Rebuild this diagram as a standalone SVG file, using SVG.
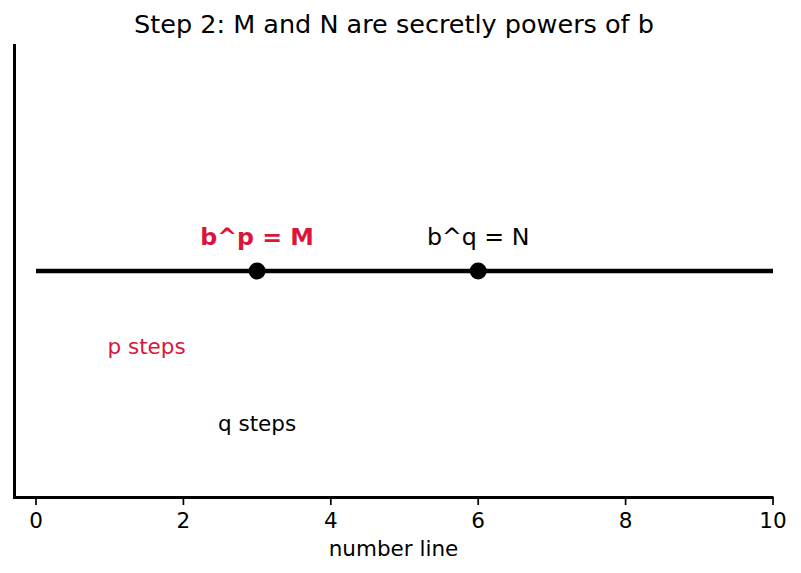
<svg xmlns="http://www.w3.org/2000/svg" width="801" height="573" viewBox="0 0 801 573">
<style>
text{font-family:"DejaVu Sans",sans-serif;fill:#000}
.tick{font-size:21.5px;text-anchor:middle}
.lbl{font-size:23.7px;text-anchor:middle}
.red{fill:#dc143c}
.steps{font-size:21.5px;text-anchor:middle}
</style>
<rect width="801" height="573" fill="#fff"/>
<g id="axes" stroke="#000" fill="none">
<path d="M14.5 44V497.5H773.5" stroke-width="3"/>
<g stroke-width="1.7">
<path d="M36 497V505M183.4 497V505M330.8 497V505M478.2 497V505M625.6 497V505M773 497V505"/>
</g>
</g>
<g id="ticklabels">
<text class="tick" x="36" y="528">0</text>
<text class="tick" x="183.4" y="528">2</text>
<text class="tick" x="330.8" y="528">4</text>
<text class="tick" x="478.2" y="528">6</text>
<text class="tick" x="625.6" y="528">8</text>
<text class="tick" x="773" y="528">10</text>
</g>
<text id="xlabel" class="tick" x="393.5" y="556">number line</text>
<text id="title" x="394" y="33" style="font-size:25.5px;text-anchor:middle">Step 2: M and N are secretly powers of b</text>
<g id="connectors">
<line x1="36" y1="271" x2="773" y2="271" stroke="#000" stroke-width="4.5"/>
</g>
<g id="nodeM">
<circle cx="257.1" cy="271" r="8.5" fill="#000"/>
<text class="lbl red" x="257.1" y="245" font-weight="bold">b^p = M</text>
</g>
<g id="nodeN">
<circle cx="478.2" cy="271" r="8.5" fill="#000"/>
<text class="lbl" x="478.2" y="245">b^q = N</text>
</g>
<g id="psteps"><text class="steps red" x="146.6" y="354">p steps</text></g>
<g id="qsteps"><text class="steps" x="257.1" y="431">q steps</text></g>
</svg>
